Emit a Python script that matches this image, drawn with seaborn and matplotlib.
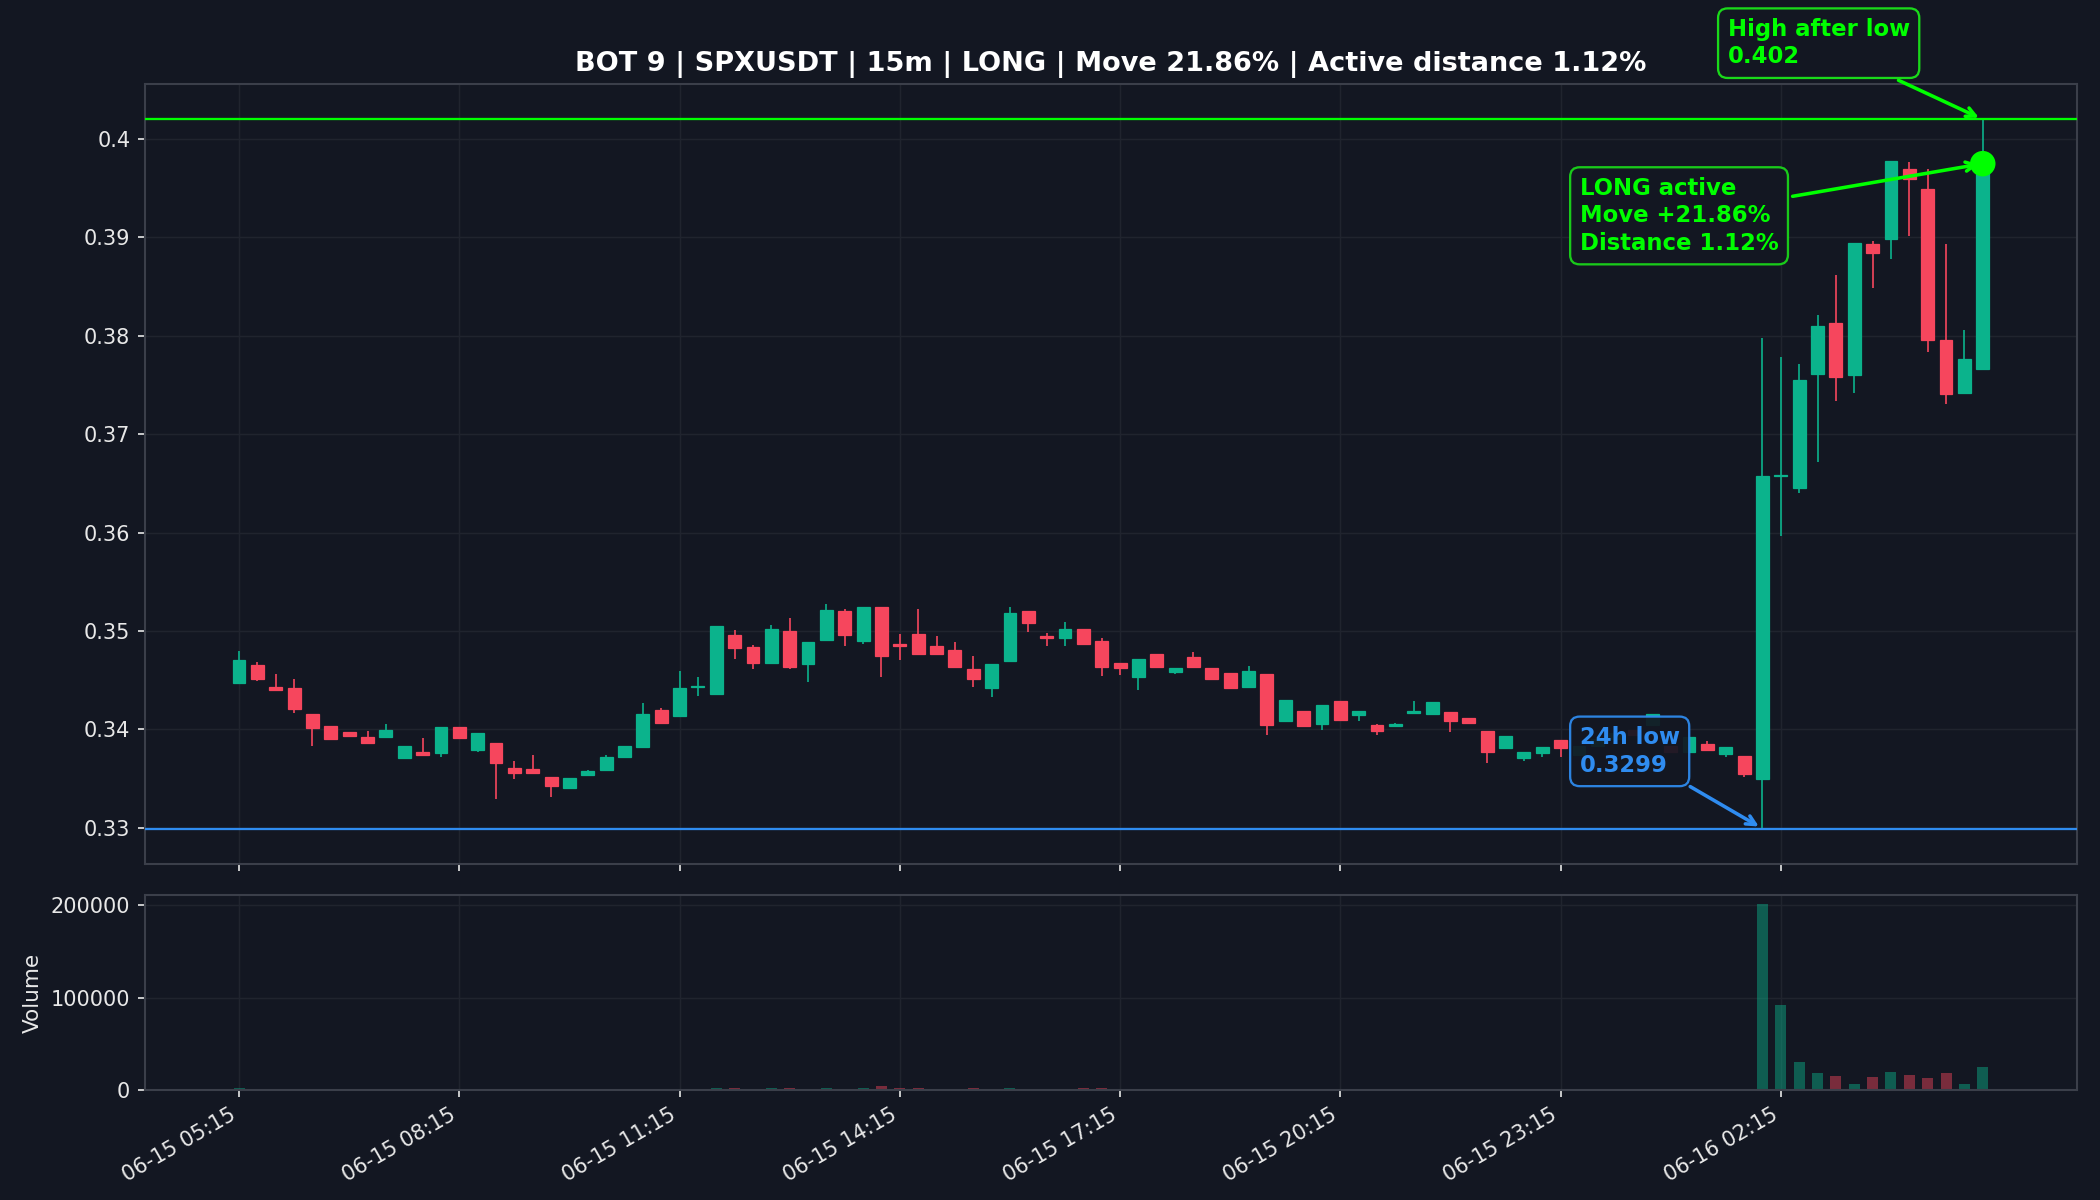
import numpy as np
import pandas as pd
import matplotlib
matplotlib.use("Agg")
import matplotlib.pyplot as plt
import matplotlib.ticker as mticker
import seaborn as sns

# ---------------- data ----------------
open_ = [0.3447, 0.3465, 0.3443, 0.3442, 0.3415, 0.3403, 0.3397, 0.3392, 0.3392, 0.3371,
         0.3377, 0.3376, 0.3402, 0.3379, 0.3386, 0.3361, 0.3360, 0.3351, 0.3340, 0.3353,
         0.3359, 0.3372, 0.3382, 0.3420, 0.3413, 0.3443, 0.3436, 0.3496, 0.3484, 0.3467,
         0.3500, 0.3466, 0.3491, 0.3520, 0.3490, 0.3524, 0.3487, 0.3497, 0.3485, 0.3481,
         0.3461, 0.3442, 0.3469, 0.3520, 0.3495, 0.3493, 0.3502, 0.3490, 0.3467, 0.3453,
         0.3476, 0.3458, 0.3473, 0.3462, 0.3457, 0.3443, 0.3456, 0.3408, 0.3419, 0.3405,
         0.3429, 0.3414, 0.3404, 0.3403, 0.3417, 0.3416, 0.3418, 0.3411, 0.3398, 0.3381,
         0.3371, 0.3376, 0.3389, 0.3374, 0.3383, 0.3390, 0.3399, 0.3404, 0.3383, 0.3377,
         0.3385, 0.3375, 0.3373, 0.3349, 0.3657, 0.3645, 0.3761, 0.3813, 0.3760, 0.3893,
         0.3898, 0.3970, 0.3949, 0.3796, 0.3742, 0.3766]
high = [0.3480, 0.3468, 0.3456, 0.3451, 0.3415, 0.3403, 0.3397, 0.3398, 0.3405, 0.3383,
        0.3391, 0.3402, 0.3402, 0.3396, 0.3386, 0.3368, 0.3374, 0.3351, 0.3350, 0.3359,
        0.3374, 0.3383, 0.3427, 0.3422, 0.3459, 0.3453, 0.3505, 0.3501, 0.3486, 0.3506,
        0.3513, 0.3489, 0.3527, 0.3522, 0.3524, 0.3524, 0.3497, 0.3522, 0.3495, 0.3489,
        0.3474, 0.3466, 0.3524, 0.3520, 0.3498, 0.3509, 0.3502, 0.3493, 0.3467, 0.3471,
        0.3476, 0.3462, 0.3479, 0.3462, 0.3457, 0.3464, 0.3456, 0.3430, 0.3419, 0.3425,
        0.3429, 0.3419, 0.3405, 0.3406, 0.3429, 0.3428, 0.3418, 0.3411, 0.3398, 0.3393,
        0.3377, 0.3382, 0.3389, 0.3383, 0.3390, 0.3396, 0.3399, 0.3415, 0.3383, 0.3392,
        0.3388, 0.3382, 0.3373, 0.3798, 0.3778, 0.3771, 0.3821, 0.3862, 0.3894, 0.3896,
        0.3978, 0.3977, 0.3970, 0.3893, 0.3806, 0.4020]
low = [0.3447, 0.3449, 0.3440, 0.3417, 0.3383, 0.3390, 0.3393, 0.3386, 0.3391, 0.3371,
       0.3374, 0.3372, 0.3391, 0.3377, 0.3329, 0.3349, 0.3356, 0.3331, 0.3340, 0.3353,
       0.3359, 0.3372, 0.3382, 0.3406, 0.3413, 0.3434, 0.3436, 0.3471, 0.3461, 0.3467,
       0.3461, 0.3448, 0.3491, 0.3485, 0.3487, 0.3453, 0.3470, 0.3476, 0.3477, 0.3463,
       0.3443, 0.3433, 0.3469, 0.3499, 0.3485, 0.3485, 0.3487, 0.3454, 0.3455, 0.3440,
       0.3463, 0.3456, 0.3463, 0.3451, 0.3442, 0.3443, 0.3394, 0.3408, 0.3403, 0.3399,
       0.3409, 0.3408, 0.3394, 0.3403, 0.3417, 0.3416, 0.3397, 0.3406, 0.3366, 0.3381,
       0.3368, 0.3372, 0.3372, 0.3374, 0.3383, 0.3390, 0.3394, 0.3404, 0.3377, 0.3377,
       0.3379, 0.3372, 0.3351, 0.3299, 0.3596, 0.3640, 0.3672, 0.3734, 0.3742, 0.3849,
       0.3878, 0.3901, 0.3784, 0.3731, 0.3742, 0.3766]
close = [0.3470, 0.3451, 0.3440, 0.3421, 0.3401, 0.3390, 0.3393, 0.3386, 0.3399, 0.3383,
         0.3374, 0.3402, 0.3391, 0.3396, 0.3366, 0.3356, 0.3356, 0.3342, 0.3350, 0.3358,
         0.3372, 0.3383, 0.3416, 0.3406, 0.3442, 0.3444, 0.3505, 0.3483, 0.3467, 0.3502,
         0.3463, 0.3489, 0.3521, 0.3496, 0.3524, 0.3474, 0.3485, 0.3476, 0.3477, 0.3463,
         0.3451, 0.3466, 0.3518, 0.3508, 0.3493, 0.3502, 0.3487, 0.3463, 0.3462, 0.3471,
         0.3463, 0.3462, 0.3463, 0.3451, 0.3442, 0.3459, 0.3404, 0.3430, 0.3403, 0.3425,
         0.3409, 0.3419, 0.3398, 0.3405, 0.3419, 0.3428, 0.3408, 0.3406, 0.3377, 0.3393,
         0.3377, 0.3382, 0.3381, 0.3383, 0.3390, 0.3396, 0.3394, 0.3415, 0.3377, 0.3392,
         0.3379, 0.3382, 0.3354, 0.3657, 0.3658, 0.3755, 0.3810, 0.3758, 0.3894, 0.3884,
         0.3978, 0.3959, 0.3796, 0.3741, 0.3776, 0.3975]
volume = [2200, 400, 300, 500, 600, 400, 300, 350, 400, 300,
          300, 450, 400, 350, 600, 400, 300, 500, 350, 300,
          300, 350, 700, 500, 800, 600, 2200, 2000, 700, 2000,
          2200, 800, 2000, 900, 2000, 3800, 2200, 2000, 700, 800,
          2000, 900, 2200, 700, 600, 700, 2000, 2200, 500, 600,
          400, 300, 400, 350, 400, 350, 700, 500, 450, 400,
          450, 300, 400, 300, 350, 400, 350, 300, 500, 350,
          300, 300, 350, 300, 300, 350, 300, 400, 350, 350,
          300, 300, 600, 201000, 91500, 30300, 18400, 15100, 6500, 14000,
          19500, 16200, 13000, 18400, 6500, 24900]
tick_labels = ["06-15 05:15", "06-15 08:15", "06-15 11:15", "06-15 14:15",
               "06-15 17:15", "06-15 20:15", "06-15 23:15", "06-16 02:15"]
low_24h = 0.3299
high_after_low = 0.402
title = "BOT 9 | SPXUSDT | 15m | LONG | Move 21.86% | Active distance 1.12%"
label_high = "High after low\n0.402"
label_long = "LONG active\nMove +21.86%\nDistance 1.12%"
label_low = "24h low\n0.3299"

# ---------------- style ----------------
BG = "#131722"
GREEN = "#0bb38c"
RED = "#f6465d"
LIME = "#00ff00"
BLUE = "#2f8cf0"
GRID = "#20242e"
SPINE = "#3b3f4a"
TXT = "#e8e8e8"

sns.set_theme(style="dark", rc={
    "figure.facecolor": BG, "axes.facecolor": BG, "savefig.facecolor": BG,
    "axes.edgecolor": SPINE, "axes.labelcolor": TXT, "text.color": TXT,
    "xtick.color": TXT, "ytick.color": TXT, "grid.color": GRID,
    "xtick.bottom": True, "ytick.left": True,
})
plt.rcParams["font.family"] = ["DejaVu Sans"]

df = pd.DataFrame({"open": open_, "high": high, "low": low, "close": close, "volume": volume})
df["idx"] = np.arange(len(df))
df["dir"] = np.where(df["close"] >= df["open"], "up", "down")
colors = np.where(df["dir"] == "up", GREEN, RED)

fig = plt.figure(figsize=(14, 8), dpi=150)
ax = fig.add_axes([0.0690, 0.2800, 0.9200, 0.6500])
axv = fig.add_axes([0.0690, 0.0917, 0.9200, 0.1625], sharex=ax)

# candles
ax.vlines(df["idx"], df["low"], df["high"], colors=colors, lw=0.8, zorder=2)
ax.bar(df["idx"], (df["close"] - df["open"]).abs(), bottom=np.minimum(df["open"], df["close"]),
       width=0.7, color=colors, edgecolor=colors, linewidth=0.6, zorder=3)

ax.axhline(high_after_low, color=LIME, lw=1.1, zorder=4)
ax.axhline(low_24h, color=BLUE, lw=1.1, zorder=4)

last = df.iloc[-1]
sns.scatterplot(x=[last["idx"]], y=[last["close"]], color=LIME, s=150, edgecolor="none",
                zorder=7, ax=ax, legend=False)

ann_kw = dict(textcoords="data", ha="left", va="center", fontsize=10.9, fontweight="bold",
              linespacing=1.25, annotation_clip=False, zorder=8)
ax.annotate(label_high, xy=(95, high_after_low), xytext=(81.1, 0.40975), color=LIME,
            bbox=dict(boxstyle="round,pad=0.42", fc=BG, ec=(0.1, 0.85, 0.1), lw=1.1),
            arrowprops=dict(arrowstyle="->", color=LIME, lw=1.7), **ann_kw)
ax.annotate(label_long, xy=(95, last["close"]), xytext=(73.04, 0.3922), color=LIME,
            bbox=dict(boxstyle="round,pad=0.42", fc=BG, ec=(0.1, 0.85, 0.1), lw=1.1, alpha=0.93),
            arrowprops=dict(arrowstyle="->", color=LIME, lw=1.7), **ann_kw)
ax.annotate(label_low, xy=(83, low_24h), xytext=(73.04, 0.33775), color=BLUE,
            bbox=dict(boxstyle="round,pad=0.42", fc=BG, ec=BLUE, lw=1.1, alpha=0.93),
            arrowprops=dict(arrowstyle="->", color=BLUE, lw=1.7), **ann_kw)

ax.set_title(title, fontsize=13, fontweight="bold", color="white")

# volume
sns.barplot(data=df, x="idx", y="volume", hue="dir", palette={"up": GREEN, "down": RED},
            native_scale=True, dodge=False, width=0.6, saturation=1, errorbar=None,
            alpha=0.45, legend=False, ax=axv, edgecolor="none", linewidth=0)
axv.set_xlabel("")
axv.set_ylabel("Volume", fontsize=10.3)
axv.set_ylim(0, 211000)
axv.yaxis.set_major_locator(mticker.MultipleLocator(100000))
axv.yaxis.set_major_formatter(mticker.StrMethodFormatter("{x:.0f}"))

# axes cosmetics
ax.set_xlim(-5.13, 100.13)
ax.set_ylim(0.3263, 0.4056)
ax.yaxis.set_major_formatter(mticker.StrMethodFormatter("{x:g}"))
ticks = np.arange(0, len(df), 12)
axv.set_xticks(ticks)
axv.set_xticklabels(tick_labels, rotation=30, ha="right")
ax.tick_params(axis="x", labelbottom=False)
for a in (ax, axv):
    a.grid(True, color=GRID, lw=0.7)
    a.set_axisbelow(True)
    a.tick_params(axis="both", labelsize=10, colors=TXT, length=3.5, width=0.8, direction="out")
    for s in a.spines.values():
        s.set_visible(True)
        s.set_color(SPINE)
        s.set_linewidth(1.0)

fig.savefig("out.png", dpi=150, facecolor=BG)
